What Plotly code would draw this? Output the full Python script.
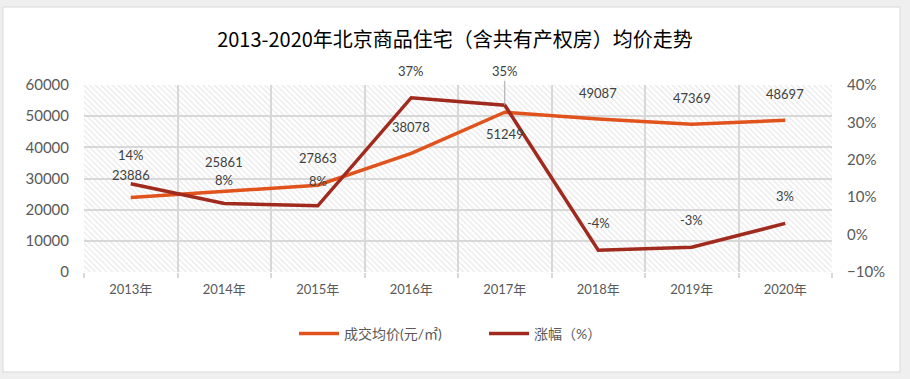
import plotly.graph_objects as go

categories = ["2013年", "2014年", "2015年", "2016年", "2017年", "2018年", "2019年", "2020年"]
avg_price = [23886, 25861, 27863, 38078, 51249, 49087, 47369, 48697]
growth = [0.136, 0.083, 0.077, 0.366, 0.346, -0.042, -0.034, 0.030]
price_name = "成交均价(元/㎡)"
growth_name = "涨幅（%）"
title_text = "2013-2020年北京商品住宅（含共有产权房）均价走势"

y_max = 60000
n = len(categories)
xs = list(range(n))

FONT = "Lato, 'Noto Sans CJK SC', sans-serif"
GRID = "#d9d9d9"
ORANGE = "#E0531C"
DARKRED = "#A02A1E"
LABEL = "#404040"
TICK = "#595959"

fig = go.Figure()

# hatched plot-area background
fig.add_trace(go.Bar(
    x=[(n - 1) / 2], y=[y_max], width=[n], base=0,
    marker=dict(color="rgba(0,0,0,0)", line=dict(width=0),
                pattern=dict(shape="\\", fgcolor="#d2d2d2", bgcolor="rgba(0,0,0,0)",
                             size=4, solidity=0.3)),
    showlegend=False, hoverinfo="skip",
))

fig.add_trace(go.Scatter(
    x=xs, y=avg_price, mode="lines", name=price_name,
    line=dict(color=ORANGE, width=3.5),
))
fig.add_trace(go.Scatter(
    x=xs, y=growth, mode="lines", name=growth_name, yaxis="y2",
    line=dict(color=DARKRED, width=3.5),
))

annotations = []
price_shift = [23, 29, 27, 26, -22, 26, 26, 26]
growth_shift = [29, 24, 25, 27, 34, 27, 27, 27]
for i, v in enumerate(avg_price):
    annotations.append(dict(x=xs[i], y=v, xref="x", yref="y", text=str(v),
                            showarrow=False, yshift=price_shift[i],
                            font=dict(family=FONT, size=13, color=LABEL)))
for i, v in enumerate(growth):
    txt = f"{round(v * 100):d}%"
    if i == 4:
        annotations.append(dict(x=xs[i], y=v, xref="x", yref="y2", text=txt,
                                showarrow=True, ax=0, ay=-growth_shift[i], arrowhead=0,
                                arrowwidth=1, arrowcolor="#a6a6a6", standoff=0,
                                font=dict(family=FONT, size=13, color=LABEL)))
    else:
        annotations.append(dict(x=xs[i], y=v, xref="x", yref="y2", text=txt,
                                showarrow=False, yshift=growth_shift[i],
                                font=dict(family=FONT, size=13, color=LABEL)))

L, R, T, B = 84, 78, 85, 107
W, H = 910, 379
pw, ph = W - L - R, H - T - B


def px_x(p):
    return (p - L) / pw


def px_y(p):
    return (H - B - p) / ph


fig.update_layout(
    width=W, height=H,
    margin=dict(l=L, r=R, t=T, b=B),
    paper_bgcolor="#efefef",
    plot_bgcolor="white",
    title=dict(text=title_text, x=0.5, xanchor="center", y=1 - 40 / H, yanchor="middle",
               font=dict(family="'Noto Sans CJK SC', sans-serif", size=20, color="#000000")),
    xaxis=dict(
        range=[-0.5, n - 0.5], tickvals=xs, ticktext=categories,
        showgrid=False, zeroline=False, showline=False, ticks="",
        tickfont=dict(family=FONT, size=13, color=TICK),
        minor=dict(tickvals=[i - 0.5 for i in range(n + 1)], showgrid=True,
                   gridcolor=GRID, gridwidth=2, ticks="outside", ticklen=5,
                   tickcolor=GRID, tickwidth=2),
        ticklabelstandoff=8,
    ),
    yaxis=dict(
        range=[0, y_max], dtick=10000, tickformat="d", showgrid=True, gridcolor=GRID, gridwidth=2,
        zeroline=False, showline=False,
        tickfont=dict(family=FONT, size=15, color=TICK),
        ticklabelstandoff=14,
    ),
    yaxis2=dict(
        overlaying="y", side="right", range=[-0.1, 0.4], dtick=0.1, tickformat=".0%",
        showgrid=False, zeroline=False, showline=False,
        tickfont=dict(family=FONT, size=15, color=TICK),
        ticklabelstandoff=14,
    ),
    legend=dict(orientation="h", x=px_x(294), xanchor="left", y=px_y(334), yanchor="middle",
                font=dict(family=FONT, size=14, color=TICK), bgcolor="rgba(0,0,0,0)",
                itemwidth=40, entrywidth=135),
    annotations=annotations,
    shapes=[dict(type="rect", xref="paper", yref="paper",
                 x0=px_x(3), x1=px_x(900), y0=px_y(372), y1=px_y(7),
                 fillcolor="white", line=dict(color=GRID, width=1), layer="below")],
    showlegend=True,
)

fig.write_html("out.html", post_script="document.body.style.margin='0';",
               config={"displayModeBar": False})
